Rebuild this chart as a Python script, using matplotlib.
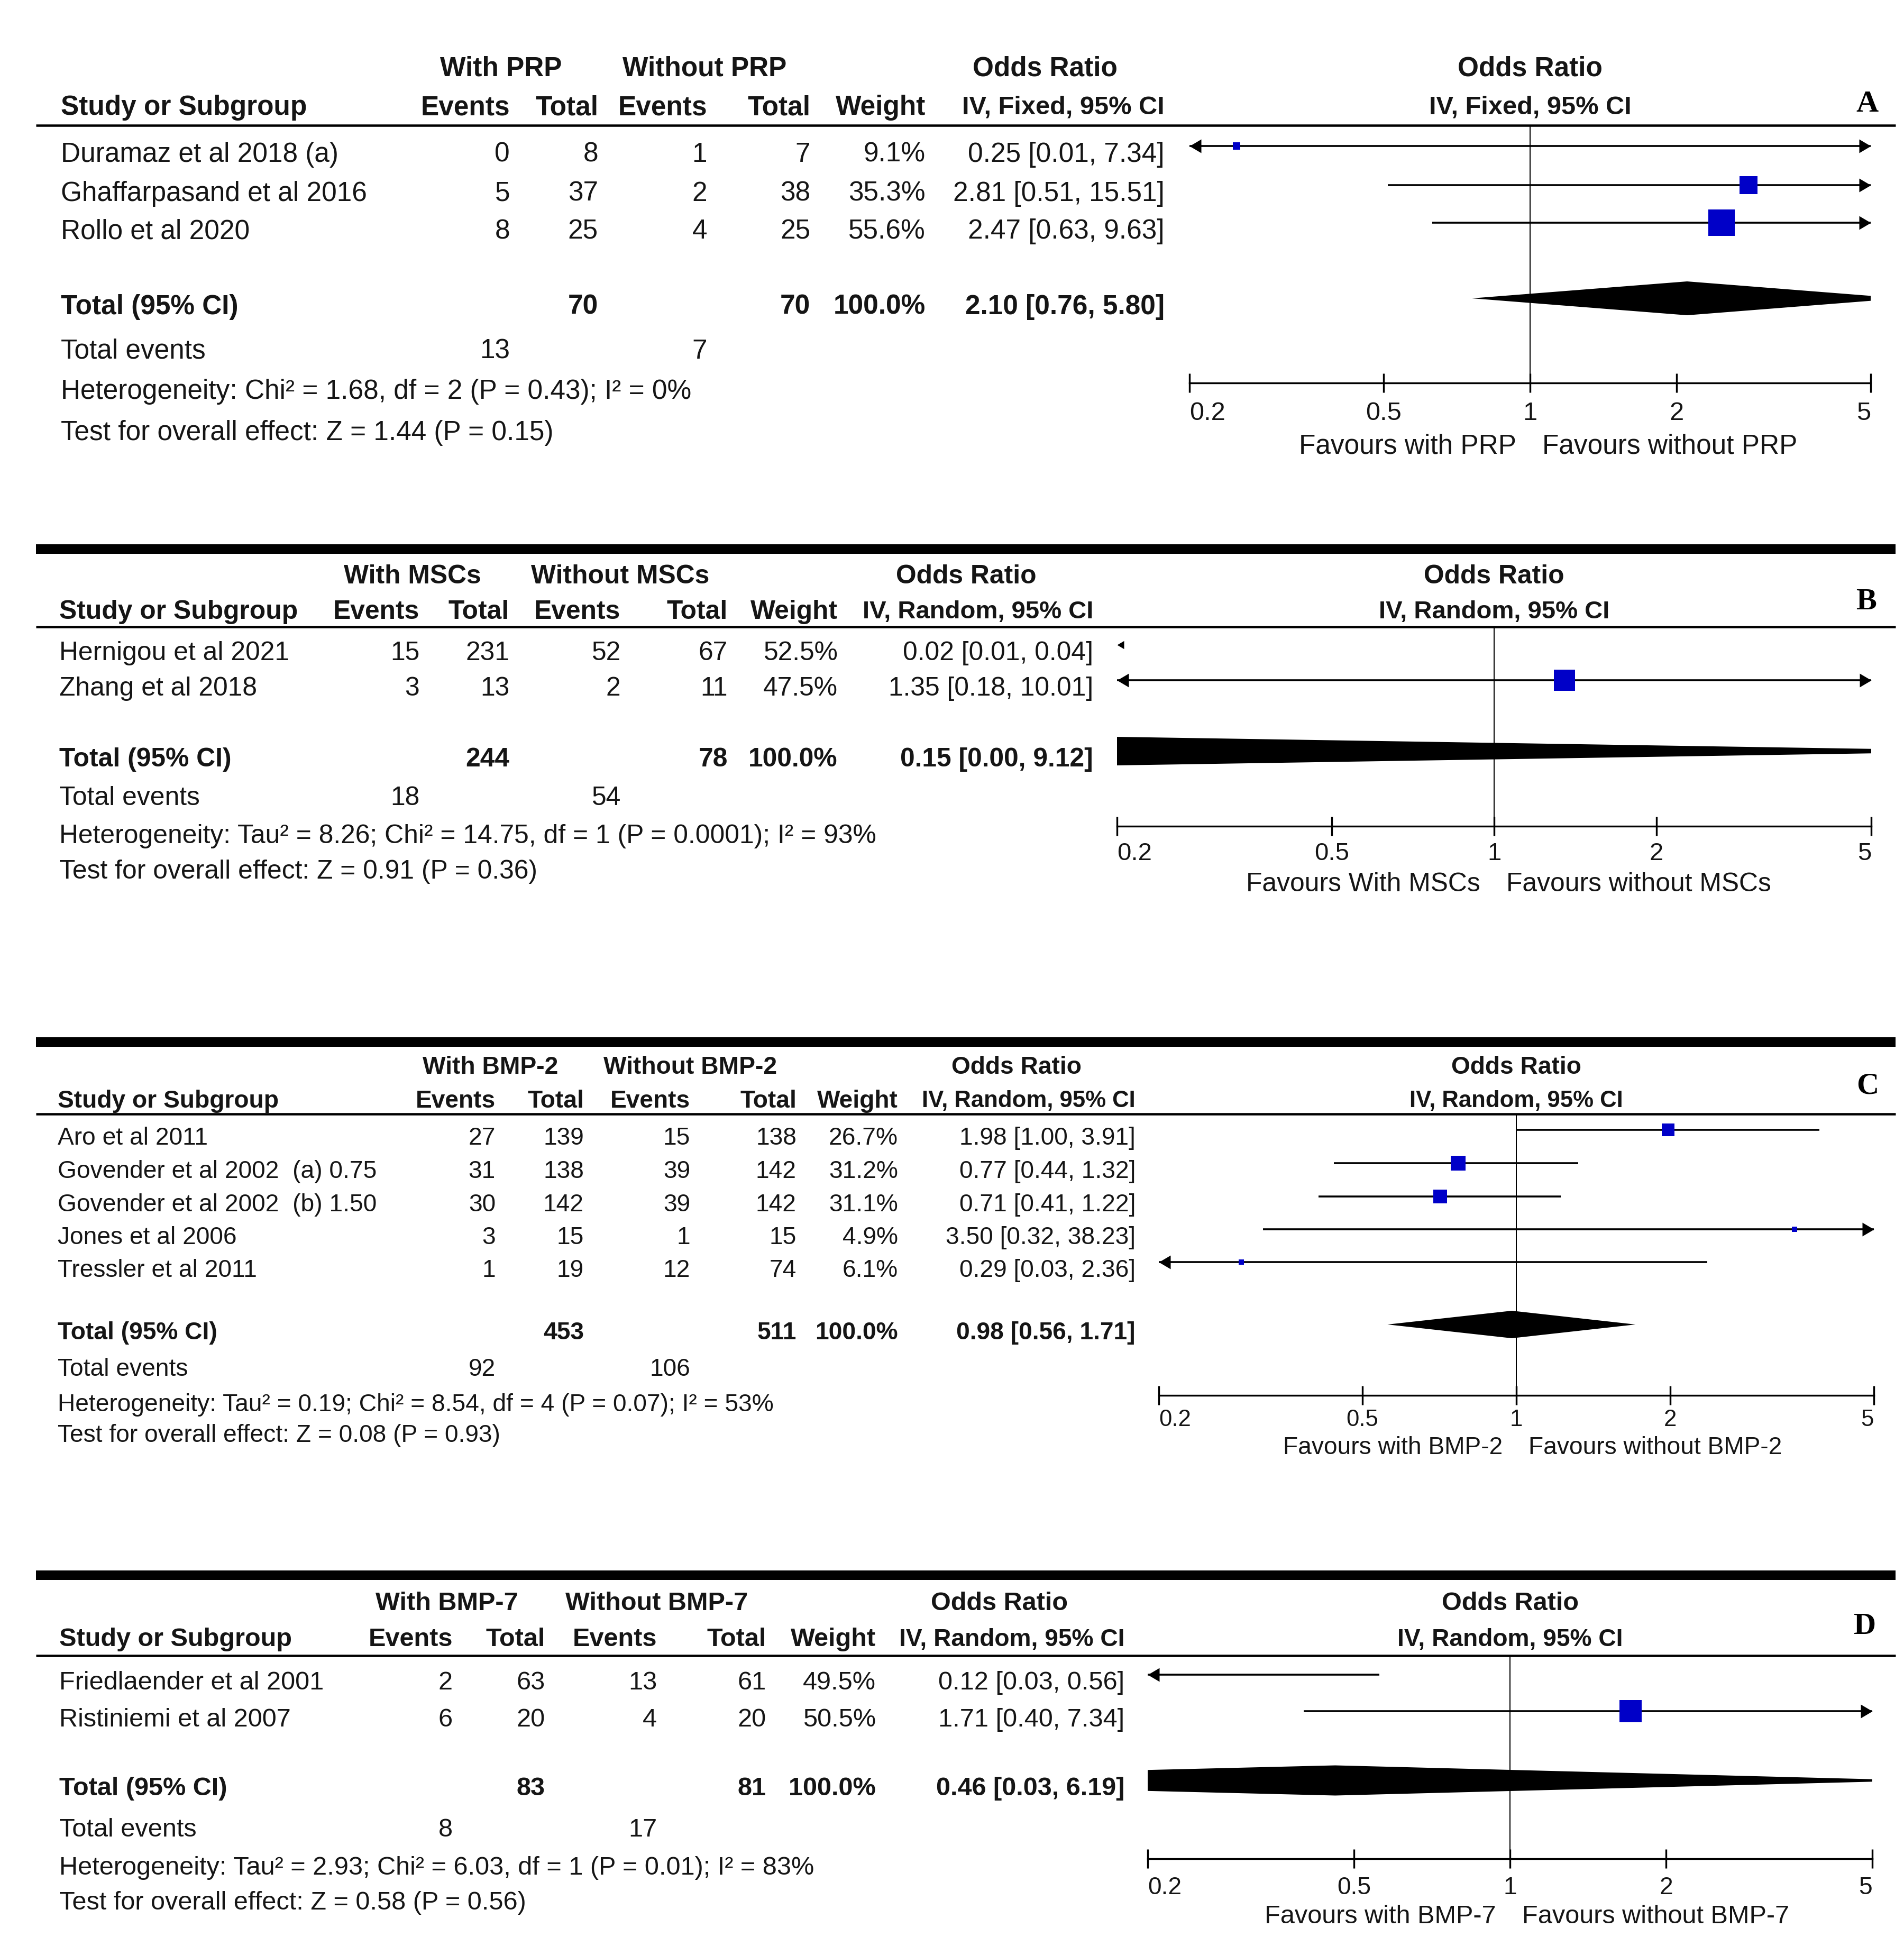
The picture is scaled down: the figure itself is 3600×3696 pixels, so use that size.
import numpy as np
import matplotlib
matplotlib.use("Agg")
import matplotlib.pyplot as plt
from matplotlib.transforms import blended_transform_factory
from matplotlib.ticker import NullLocator

plt.rcParams['font.family'] = ['Liberation Sans', 'DejaVu Sans']

# ---------------------------------------------------------------- data
# Panel A
A_studies = ["Duramaz et al 2018 (a)", "Ghaffarpasand et al 2016", "Rollo et al 2020"]
A_ev1 = [0, 5, 8]
A_n1 = [8, 37, 25]
A_ev2 = [1, 2, 4]
A_n2 = [7, 38, 25]
A_weight = [9.1, 35.3, 55.6]
A_or = [0.25, 2.81, 2.47]
A_lo = [0.01, 0.51, 0.63]
A_hi = [7.34, 15.51, 9.63]
A_total = [2.10, 0.76, 5.80]
A_groups = ["With PRP", "Without PRP"]
A_method = "IV, Fixed, 95% CI"
A_favours = ["Favours with PRP", "Favours without PRP"]
A_het = "Heterogeneity: Chi\u00b2 = 1.68, df = 2 (P = 0.43); I\u00b2 = 0%"
A_test = "Test for overall effect: Z = 1.44 (P = 0.15)"

# Panel B
B_studies = ["Hernigou et al 2021", "Zhang et al 2018"]
B_ev1 = [15, 3]
B_n1 = [231, 13]
B_ev2 = [52, 2]
B_n2 = [67, 11]
B_weight = [52.5, 47.5]
B_or = [0.02, 1.35]
B_lo = [0.01, 0.18]
B_hi = [0.04, 10.01]
B_total = [0.15, 0.0025, 9.12]   # lower limit printed as 0.00
B_groups = ["With MSCs", "Without MSCs"]
B_method = "IV, Random, 95% CI"
B_favours = ["Favours With MSCs", "Favours without MSCs"]
B_het = "Heterogeneity: Tau\u00b2 = 8.26; Chi\u00b2 = 14.75, df = 1 (P = 0.0001); I\u00b2 = 93%"
B_test = "Test for overall effect: Z = 0.91 (P = 0.36)"

# Panel C
C_studies = ["Aro et al 2011", "Govender et al 2002  (a) 0.75", "Govender et al 2002  (b) 1.50",
             "Jones et al 2006", "Tressler et al 2011"]
C_ev1 = [27, 31, 30, 3, 1]
C_n1 = [139, 138, 142, 15, 19]
C_ev2 = [15, 39, 39, 1, 12]
C_n2 = [138, 142, 142, 15, 74]
C_weight = [26.7, 31.2, 31.1, 4.9, 6.1]
C_or = [1.98, 0.77, 0.71, 3.50, 0.29]
C_lo = [1.00, 0.44, 0.41, 0.32, 0.03]
C_hi = [3.91, 1.32, 1.22, 38.23, 2.36]
C_total = [0.98, 0.56, 1.71]
C_groups = ["With BMP-2", "Without BMP-2"]
C_method = "IV, Random, 95% CI"
C_favours = ["Favours with BMP-2", "Favours without BMP-2"]
C_het = "Heterogeneity: Tau\u00b2 = 0.19; Chi\u00b2 = 8.54, df = 4 (P = 0.07); I\u00b2 = 53%"
C_test = "Test for overall effect: Z = 0.08 (P = 0.93)"

# Panel D
D_studies = ["Friedlaender et al 2001", "Ristiniemi et al 2007"]
D_ev1 = [2, 6]
D_n1 = [63, 20]
D_ev2 = [13, 4]
D_n2 = [61, 20]
D_weight = [49.5, 50.5]
D_or = [0.12, 1.71]
D_lo = [0.03, 0.40]
D_hi = [0.56, 7.34]
D_total = [0.46, 0.03, 6.19]
D_groups = ["With BMP-7", "Without BMP-7"]
D_method = "IV, Random, 95% CI"
D_favours = ["Favours with BMP-7", "Favours without BMP-7"]
D_het = "Heterogeneity: Tau\u00b2 = 2.93; Chi\u00b2 = 6.03, df = 1 (P = 0.01); I\u00b2 = 83%"
D_test = "Test for overall effect: Z = 0.58 (P = 0.56)"

TICKS = [0.2, 0.5, 1, 2, 5]
TICK_LABELS = ["0.2", "0.5", "1", "2", "5"]

# ---------------------------------------------------------------- layout (pixels)
W, H = 3600, 3696
X0, X1 = 68, 3584
TXT = "#151515"
BLUE = "#0000C8"
GOFF = -11

LAYOUT = {
    "A": dict(thick=None, h1=125, h2=198, rule=237, rows=[287, 361, 432], total=575, tev=659,
              het=735, test=813, cols=(115, 964, 1131, 1337, 1532, 1750, 2202), grp=(947, 1332),
              orc=1976, L=2249, R=3537, axis=724, tl=776, fav=839, lab=(3530, 191), dh=64,
              fs=37, sq=1.08),
    "B": dict(thick=1038, h1=1085, h2=1152, rule=1185, rows=[1230, 1297], total=1431, tev=1504,
              het=1576, test=1643, cols=(112, 793, 963, 1173, 1376, 1584, 2067), grp=(780, 1173),
              orc=1827, L=2112, R=3538, axis=1562, tl=1609, fav=1667, lab=(3528, 1132), dh=58,
              fs=35.8, sq=1.0),
    "C": dict(thick=1970, h1=2013, h2=2077, rule=2106, rows=[2147, 2210, 2273, 2335, 2397],
              total=2515, tev=2584, het=2651, test=2709,
              cols=(109, 937, 1104, 1305, 1506, 1698, 2147), grp=(927, 1305),
              orc=1922, L=2191, R=3543, axis=2638, tl=2680, fav=2732, lab=(3531, 2047), dh=52,
              fs=33.2, sq=0.95),
    "D": dict(thick=2978, h1=3026, h2=3095, rule=3130, rows=[3177, 3246], total=3377, tev=3454,
              het=3526, test=3592, cols=(112, 856, 1031, 1242, 1449, 1656, 2126), grp=(845, 1242),
              orc=1889, L=2170, R=3540, axis=3514, tl=3564, fav=3618, lab=(3526, 3069), dh=57,
              fs=35.0, sq=1.0),
}

PANELS = {
    "A": dict(studies=A_studies, ev1=A_ev1, n1=A_n1, ev2=A_ev2, n2=A_n2, w=A_weight, orr=A_or,
              lo=A_lo, hi=A_hi, total=A_total, groups=A_groups, method=A_method,
              favours=A_favours, het=A_het, test=A_test),
    "B": dict(studies=B_studies, ev1=B_ev1, n1=B_n1, ev2=B_ev2, n2=B_n2, w=B_weight, orr=B_or,
              lo=B_lo, hi=B_hi, total=B_total, groups=B_groups, method=B_method,
              favours=B_favours, het=B_het, test=B_test),
    "C": dict(studies=C_studies, ev1=C_ev1, n1=C_n1, ev2=C_ev2, n2=C_n2, w=C_weight, orr=C_or,
              lo=C_lo, hi=C_hi, total=C_total, groups=C_groups, method=C_method,
              favours=C_favours, het=C_het, test=C_test),
    "D": dict(studies=D_studies, ev1=D_ev1, n1=D_n1, ev2=D_ev2, n2=D_n2, w=D_weight, orr=D_or,
              lo=D_lo, hi=D_hi, total=D_total, groups=D_groups, method=D_method,
              favours=D_favours, het=D_het, test=D_test),
}

# arrow heads: tip at the origin
LEFT_HEAD = [(0, 0), (1, 0.59), (1, -0.59), (0, 0)]
RIGHT_HEAD = [(0, 0), (-1, 0.59), (-1, -0.59), (0, 0)]
PX = 72.0 / 100.0   # points per pixel at dpi 100

fig = plt.figure(figsize=(W / 100, H / 100), dpi=100)
fig.patch.set_facecolor("white")
bg = fig.add_axes([0, 0, 1, 1])
bg.set_xlim(0, W)
bg.set_ylim(H, 0)
bg.set_axis_off()


def ci_text(o, l, h):
    return f"{o:.2f} [{l:.2f}, {h:.2f}]"


def draw_panel(key):
    d = PANELS[key]
    lay = LAYOUT[key]
    fs = lay["fs"]
    c = lay["cols"]
    kw = dict(color=TXT, fontsize=fs, va="center_baseline")
    kwm = dict(color=TXT, fontsize=fs * 0.95, va="center_baseline")
    x1px = (lay["L"] + lay["R"]) / 2.0

    if lay["thick"] is not None:
        bg.plot([X0, X1], [lay["thick"]] * 2, color="black", lw=18 * PX, solid_capstyle="butt")

    # header line 1
    bg.text(lay["grp"][0], lay["h1"], d["groups"][0], ha="center", weight="bold", **kw)
    bg.text(lay["grp"][1], lay["h1"], d["groups"][1], ha="center", weight="bold", **kw)
    bg.text(lay["orc"], lay["h1"], "Odds Ratio", ha="center", weight="bold", **kw)
    bg.text(x1px, lay["h1"], "Odds Ratio", ha="center", weight="bold", **kw)
    # header line 2
    bg.text(c[0], lay["h2"], "Study or Subgroup", ha="left", weight="bold", **kw)
    for x, s in zip(c[1:6], ["Events", "Total", "Events", "Total", "Weight"]):
        bg.text(x, lay["h2"], s, ha="right", weight="bold", **kw)
    bg.text(c[6], lay["h2"], d["method"], ha="right", weight="bold", **kwm)
    bg.text(x1px, lay["h2"], d["method"], ha="center", weight="bold", **kwm)
    bg.text(lay["lab"][0], lay["lab"][1], key, ha="center", va="center_baseline",
            fontsize=42, weight="bold", family=["Liberation Serif", "DejaVu Serif"], color="black")
    bg.plot([X0, X1], [lay["rule"]] * 2, color="black", lw=4.5 * PX, solid_capstyle="butt")

    # study rows
    for i, y in enumerate(lay["rows"]):
        bg.text(c[0], y, d["studies"][i], ha="left", **kw)
        vals = [str(d["ev1"][i]), str(d["n1"][i]), str(d["ev2"][i]), str(d["n2"][i]),
                f"{d['w'][i]:.1f}%", ci_text(d["orr"][i], d["lo"][i], d["hi"][i])]
        for x, s in zip(c[1:], vals):
            bg.text(x, y, s, ha="right", **kw)

    # totals
    t = d["total"]
    bg.text(c[0], lay["total"], "Total (95% CI)", ha="left", weight="bold", **kw)
    bg.text(c[2], lay["total"], str(sum(d["n1"])), ha="right", weight="bold", **kw)
    bg.text(c[4], lay["total"], str(sum(d["n2"])), ha="right", weight="bold", **kw)
    bg.text(c[5], lay["total"], f"{sum(d['w']):.1f}%", ha="right", weight="bold", **kw)
    bg.text(c[6], lay["total"], ci_text(*t), ha="right", weight="bold", **kw)
    bg.text(c[0], lay["tev"], "Total events", ha="left", **kw)
    bg.text(c[1], lay["tev"], str(sum(d["ev1"])), ha="right", **kw)
    bg.text(c[3], lay["tev"], str(sum(d["ev2"])), ha="right", **kw)
    bg.text(c[0], lay["het"], d["het"], ha="left", **kw)
    bg.text(c[0], lay["test"], d["test"], ha="left", **kw)

    # forest plot
    L, R = lay["L"], lay["R"]
    ax = fig.add_axes([L / W, 1 - lay["axis"] / H, (R - L) / W, (lay["axis"] - lay["rule"]) / H])
    ax.set_xscale("log")
    ax.set_xlim(TICKS[0], TICKS[-1])
    ax.set_ylim(lay["axis"], lay["rule"])
    ax.patch.set_alpha(0)
    for s in ["top", "left", "right"]:
        ax.spines[s].set_visible(False)
    ax.spines["bottom"].set_linewidth(3.4 * PX)
    ax.set_xticks(TICKS)
    ax.xaxis.set_minor_locator(NullLocator())
    ax.tick_params(axis="x", direction="inout", length=36 * PX, width=3.4 * PX,
                   labelbottom=False, color="black")
    ax.set_yticks([])
    ax.axvline(1, color="black", lw=2.0 * PX, zorder=1)

    xmin, xmax = TICKS[0], TICKS[-1]
    for i, y in enumerate(lay["rows"]):
        gy = y + GOFF
        o, lo, hi, w = d["orr"][i], d["lo"][i], d["hi"][i], d["w"][i]
        ax.plot([lo, hi], [gy, gy], color="black", lw=3.6 * PX, solid_capstyle="butt", zorder=2)
        side = lay["sq"] * (6 + 0.72 * w)
        ax.plot([o], [gy], marker="s", ms=side * PX, color=BLUE, mew=0, zorder=3)
        if lo < xmin <= hi:
            ax.plot([xmin], [gy], marker=LEFT_HEAD, ms=44 * PX, color="black", mew=0,
                    clip_on=False, zorder=3)
        if hi > xmax >= lo:
            ax.plot([xmax], [gy], marker=RIGHT_HEAD, ms=44 * PX, color="black", mew=0,
                    clip_on=False, zorder=3)
        if hi < xmin:
            ax.plot([xmin], [gy], marker=LEFT_HEAD, ms=26 * PX, color="black", mew=0,
                    clip_on=False, zorder=3)

    # pooled diamond
    ty = lay["total"] + GOFF
    o, lo, hi = t
    dh = lay["dh"]
    ax.fill([lo, o, hi, o], [ty, ty - dh / 2, ty, ty + dh / 2], color="black", lw=0, zorder=3)

    # tick labels and favours
    tr = blended_transform_factory(ax.transData, bg.transData)
    for v, s, ha in zip(TICKS, TICK_LABELS, ["left", "center", "center", "center", "right"]):
        ax.text(v, lay["tl"], s, transform=tr, ha=ha, va="center_baseline",
                fontsize=fs * 0.95, color=TXT, clip_on=False)
    bg.text(x1px - 26, lay["fav"], d["favours"][0], ha="right", **kw)
    bg.text(x1px + 23, lay["fav"], d["favours"][1], ha="left", **kw)


for k in ["A", "B", "C", "D"]:
    draw_panel(k)

fig.savefig("out.png", dpi=100, facecolor="white")
